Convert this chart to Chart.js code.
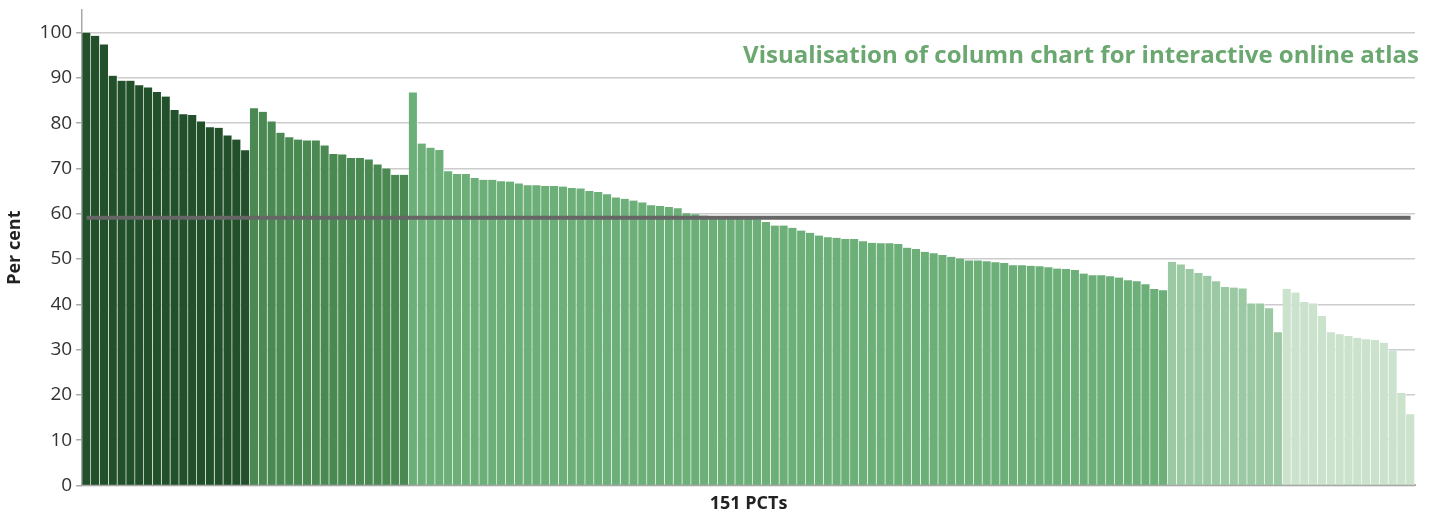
<!DOCTYPE html>
<html>
<head>
<meta charset="utf-8">
<script src="https://cdn.jsdelivr.net/npm/chart.js@4"></script>
<style>
  html, body { margin:0; padding:0; background:#fff; }
  #wrap { position:relative; width:1437px; height:515px; }
  #chartTitle {
    position:absolute; right:18px; top:37px;
    font-family:'Open Sans', sans-serif; font-weight:700; font-size:24px;
    color:#6aa870; white-space:nowrap;
  }
</style>
</head>
<body>
<div id="wrap">
  <canvas id="chart" width="1437" height="515"></canvas>
  <div id="chartTitle">Visualisation of column chart for interactive online atlas</div>
</div>
<script>
// values per PCT, grouped by colour band (sorted within each band)
const band1 = [100, 99.3, 97.4, 90.5, 89.4, 89.4, 88.4, 87.9, 86.9, 85.9, 82.9, 82.0, 81.8, 80.4, 79.1, 79.0, 77.3, 76.4, 74.0];
const band2 = [83.3, 82.5, 80.4, 77.9, 76.9, 76.4, 76.2, 76.2, 75.1, 73.2, 73.1, 72.3, 72.3, 72.0, 70.9, 70.0, 68.6, 68.6];
const band3 = [86.8, 75.5, 74.6, 74.1, 69.4, 68.8, 68.8, 67.9, 67.5, 67.5, 67.2, 67.1, 66.7, 66.3, 66.3, 66.1, 66.1, 66.0,
  65.7, 65.6, 65.0, 64.8, 64.3, 63.6, 63.3, 62.9, 62.5, 61.9, 61.7, 61.5, 61.2, 60.1, 59.9, 59.6, 59.5, 59.4, 59.3, 59.2,
  59.0, 58.8, 58.2, 57.4, 57.4, 56.9, 56.3, 55.8, 55.2, 54.8, 54.7, 54.4, 54.4, 53.9, 53.6, 53.5, 53.5, 53.3, 52.5, 52.2,
  51.6, 51.3, 50.9, 50.5, 50.1, 49.7, 49.7, 49.5, 49.3, 49.1, 48.6, 48.6, 48.5, 48.4, 48.2, 47.9, 47.8, 47.6, 46.8, 46.4,
  46.4, 46.2, 45.9, 45.3, 45.1, 44.4, 43.4, 43.1];
const band4 = [49.4, 48.8, 47.8, 46.9, 46.3, 45.1, 43.8, 43.7, 43.5, 40.2, 40.2, 39.1, 33.8];
const band5 = [43.4, 42.6, 40.5, 40.2, 37.4, 33.8, 33.4, 33.0, 32.6, 32.3, 32.1, 31.5, 29.8, 20.4, 15.7];
const bandColours = ['#22502b', '#4b8952', '#6daf79', '#9bc9a3', '#cbe2cd'];
const average = 59.1;
const yTicks = [0, 10, 20, 30, 40, 50, 60, 70, 80, 90, 100];

const bands = [band1, band2, band3, band4, band5];
const values = bands.flat();
const labels = values.map((v, i) => 'PCT ' + (i + 1));
const colours = [];
bands.forEach((b, k) => b.forEach(() => colours.push(bandColours[k])));

const titleFont = { family:'Open Sans', size:18, weight:'bold' };

new Chart(document.getElementById('chart'), {
  data: {
    labels,
    datasets: [
      { type:'line', label:'Average', data: values.map(() => average), borderColor:'#666666', borderWidth:4,
        pointRadius:0, fill:false, order:0 },
      { type:'bar', label:'Per cent', data: values, backgroundColor: colours,
        borderColor:'rgba(255,255,255,0.75)', borderWidth:{ right:1, top:0, left:0, bottom:0 },
        barPercentage:1, categoryPercentage:1, order:1 }
    ]
  },
  options: {
    responsive:false, animation:false,
    layout:{ padding:{ left:4, right:22, top:10, bottom:0 } },
    plugins:{ legend:{ display:false }, tooltip:{ enabled:false } },
    scales:{
      x:{
        grid:{ display:false, drawTicks:false },
        border:{ color:'#a8a8a8', width:2 },
        ticks:{ display:false },
        title:{ display:true, text:'151 PCTs', color:'#222', font: titleFont, padding:{ top:8, bottom:0 } }
      },
      y:{
        min:0, max:105,
        afterBuildTicks: axis => { axis.ticks = yTicks.map(v => ({ value:v })); },
        afterFit: axis => { axis.paddingTop = 0; axis.paddingBottom = 0; },
        grid:{ color:'#cccccc', lineWidth:1.5, tickLength:6, tickColor:'#a8a8a8' },
        border:{ color:'#a8a8a8', width:1.5 },
        ticks:{ color:'#333', font:{ family:'Open Sans', size:19 }, padding:4 },
        title:{ display:true, text:'Per cent', color:'#222', font: titleFont, padding:{ top:0, bottom:10 } }
      }
    }
  }
});
</script>
</body>
</html>
